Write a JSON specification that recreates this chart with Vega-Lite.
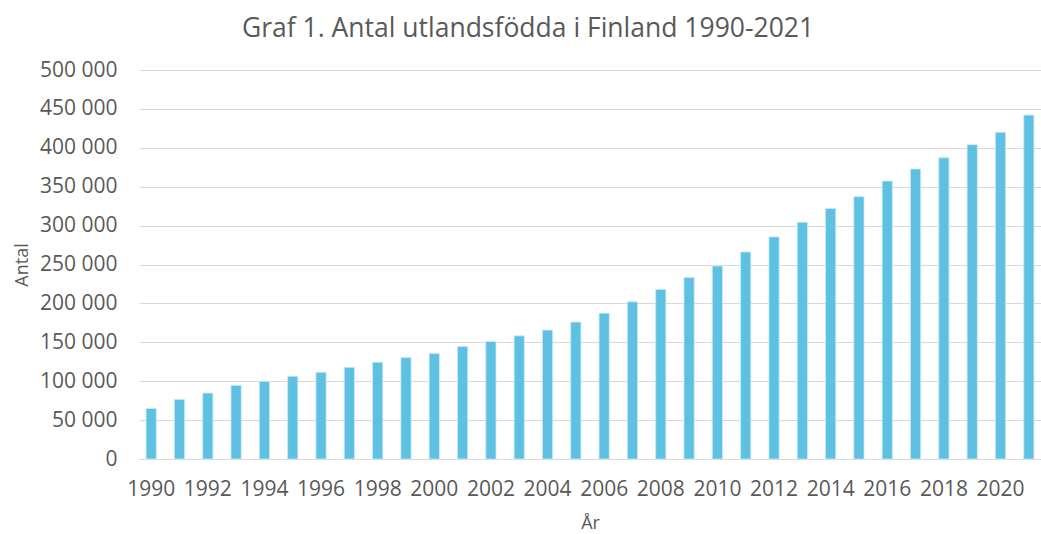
{
  "$schema": "https://vega.github.io/schema/vega-lite/v6.json",
  "autosize": "none",
  "width": 902,
  "height": 389,
  "padding": {"left": 139, "top": 70, "right": 0, "bottom": 75},
  "background": "white",
  "title": {
    "text": "Graf 1. Antal utlandsfödda i Finland 1990-2021",
    "anchor": "middle",
    "dx": -62,
    "offset": 17,
    "font": "Open Sans",
    "fontSize": 26.5,
    "fontWeight": "normal",
    "color": "#595959"
  },
  "config": {
    "locale": {"number": {"decimal": ",", "thousands": " ", "grouping": [3], "currency": ["", ""]}},
    "view": {"stroke": null},
    "axis": {
      "labelFont": "Open Sans",
      "titleFont": "Open Sans",
      "labelColor": "#595959",
      "titleColor": "#595959",
      "labelFontSize": 21,
      "titleFontSize": 18,
      "titleFontWeight": "normal",
      "labelOverlap": false
    }
  },
  "data": {
    "values": [
      {"year": 1990, "antal": 64922},
      {"year": 1991, "antal": 76600},
      {"year": 1992, "antal": 84800},
      {"year": 1993, "antal": 94600},
      {"year": 1994, "antal": 99700},
      {"year": 1995, "antal": 106300},
      {"year": 1996, "antal": 111500},
      {"year": 1997, "antal": 117800},
      {"year": 1998, "antal": 124400},
      {"year": 1999, "antal": 130400},
      {"year": 2000, "antal": 135600},
      {"year": 2001, "antal": 144600},
      {"year": 2002, "antal": 151000},
      {"year": 2003, "antal": 158300},
      {"year": 2004, "antal": 165700},
      {"year": 2005, "antal": 176000},
      {"year": 2006, "antal": 187400},
      {"year": 2007, "antal": 202000},
      {"year": 2008, "antal": 217900},
      {"year": 2009, "antal": 233200},
      {"year": 2010, "antal": 248100},
      {"year": 2011, "antal": 266100},
      {"year": 2012, "antal": 285500},
      {"year": 2013, "antal": 304300},
      {"year": 2014, "antal": 322000},
      {"year": 2015, "antal": 337200},
      {"year": 2016, "antal": 357300},
      {"year": 2017, "antal": 372800},
      {"year": 2018, "antal": 387200},
      {"year": 2019, "antal": 404000},
      {"year": 2020, "antal": 420000},
      {"year": 2021, "antal": 442000}
    ]
  },
  "mark": {"type": "bar", "color": "#5EC1E2", "stroke": "#C8EAF6", "strokeWidth": 0.8},
  "encoding": {
    "x": {
      "field": "year",
      "type": "ordinal",
      "scale": {"paddingInner": 0.64, "paddingOuter": 0.25},
      "axis": {
        "title": "År",
        "values": [1990, 1992, 1994, 1996, 1998, 2000, 2002, 2004, 2006, 2008, 2010, 2012, 2014, 2016, 2018, 2020],
        "labelAngle": 0,
        "ticks": false,
        "labelPadding": 19,
        "titlePadding": 15,
        "domainColor": "#D9D9D9",
        "grid": false
      }
    },
    "y": {
      "field": "antal",
      "type": "quantitative",
      "scale": {"domain": [0, 500000]},
      "axis": {
        "title": "Antal",
        "format": ",d",
        "values": [0, 50000, 100000, 150000, 200000, 250000, 300000, 350000, 400000, 450000, 500000],
        "ticks": false,
        "domain": false,
        "labelPadding": 22,
        "titlePadding": 8,
        "gridColor": "#D9D9D9",
        "gridWidth": 1
      }
    }
  }
}
